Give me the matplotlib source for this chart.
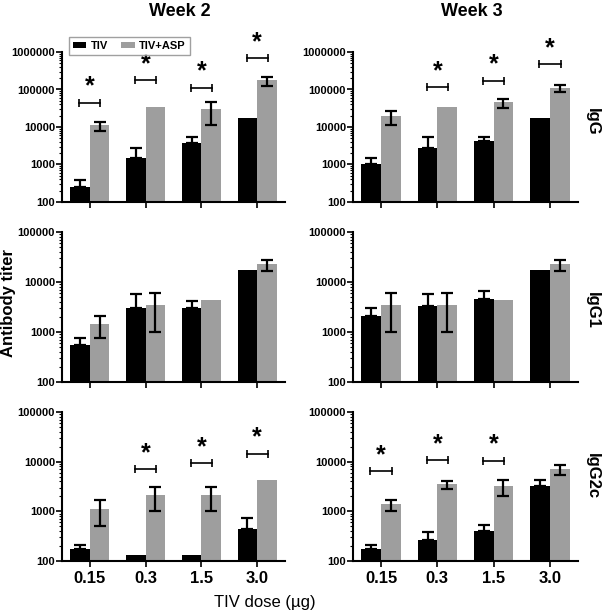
import matplotlib
matplotlib.use("Agg")
import matplotlib.pyplot as plt
from matplotlib.ticker import FixedLocator, FuncFormatter, LogLocator, NullFormatter
from matplotlib.patches import Patch
import numpy as np

plt.rcParams['font.family'] = ['Liberation Sans', 'DejaVu Sans']

doses = ["0.15", "0.3", "1.5", "3.0"]
weeks = ["Week 2", "Week 3"]
isotypes = ["IgG", "IgG1", "IgG2c"]

# ---- IgG, week 2 ----
igg_w2_tiv = [257, 1460, 3820, 17000]
igg_w2_tiv_hi = [386, 2760, 5400, None]
igg_w2_asp = [11000, 33400, 30200, 179000]
igg_w2_asp_lo = [7800, None, 11500, 126000]
igg_w2_asp_hi = [13500, None, 46400, 211000]
igg_w2_sig = [44600, 179000, 110000, 676000]

# ---- IgG, week 3 ----
igg_w3_tiv = [1040, 2830, 4360, 16900]
igg_w3_tiv_hi = [1500, 5460, 5570, None]
igg_w3_asp = [19100, 33900, 45200, 111000]
igg_w3_asp_lo = [11200, None, 31800, 85000]
igg_w3_asp_hi = [26500, None, 54300, 128000]
igg_w3_sig = [None, 116000, 171000, 479000]

# ---- IgG1, week 2 ----
igg1_w2_tiv = [541, 3020, 3020, 17400]
igg1_w2_tiv_hi = [770, 5660, 4230, None]
igg1_w2_asp = [1470, 3520, 4300, 23300]
igg1_w2_asp_lo = [747, 1010, None, 16300]
igg1_w2_asp_hi = [2060, 5930, None, 27500]
igg1_w2_sig = [None, None, None, None]

# ---- IgG1, week 3 ----
igg1_w3_tiv = [2120, 3260, 4570, 17400]
igg1_w3_tiv_hi = [3070, 5660, 6610, None]
igg1_w3_asp = [3520, 3520, 4300, 23300]
igg1_w3_asp_lo = [1010, 1010, None, 16300]
igg1_w3_asp_hi = [5930, 5930, None, 27500]
igg1_w3_sig = [None, None, None, None]

# ---- IgG2c, week 2 ----
igg2c_w2_tiv = [177, 132, 132, 445]
igg2c_w2_tiv_hi = [212, None, None, 738]
igg2c_w2_asp = [1120, 2130, 2130, 4270]
igg2c_w2_asp_lo = [503, 1020, 1020, None]
igg2c_w2_asp_hi = [1670, 3090, 3090, None]
igg2c_w2_sig = [None, 7100, 9340, 14600]

# ---- IgG2c, week 3 ----
igg2c_w3_tiv = [177, 268, 405, 3230]
igg2c_w3_tiv_hi = [212, 387, 527, 4200]
igg2c_w3_asp = [1410, 3490, 3230, 6980]
igg2c_w3_asp_lo = [1005, 2770, 2040, 5370]
igg2c_w3_asp_hi = [1720, 4140, 4200, 8520]
igg2c_w3_sig = [6370, 10700, 10500, None]

panels = [
    [(igg_w2_tiv, igg_w2_tiv_hi, igg_w2_asp, igg_w2_asp_lo, igg_w2_asp_hi, igg_w2_sig),
     (igg_w3_tiv, igg_w3_tiv_hi, igg_w3_asp, igg_w3_asp_lo, igg_w3_asp_hi, igg_w3_sig)],
    [(igg1_w2_tiv, igg1_w2_tiv_hi, igg1_w2_asp, igg1_w2_asp_lo, igg1_w2_asp_hi, igg1_w2_sig),
     (igg1_w3_tiv, igg1_w3_tiv_hi, igg1_w3_asp, igg1_w3_asp_lo, igg1_w3_asp_hi, igg1_w3_sig)],
    [(igg2c_w2_tiv, igg2c_w2_tiv_hi, igg2c_w2_asp, igg2c_w2_asp_lo, igg2c_w2_asp_hi, igg2c_w2_sig),
     (igg2c_w3_tiv, igg2c_w3_tiv_hi, igg2c_w3_asp, igg2c_w3_asp_lo, igg2c_w3_asp_hi, igg2c_w3_sig)],
]
row_ylims = [(100, 1e6), (100, 1e5), (100, 1e5)]

W, H = 604, 615
fig = plt.figure(figsize=(W / 100, H / 100), dpi=100)

col_x = [(62, 223), (353, 225)]
row_y = [(52, 202), (232, 382), (412, 561)]

black = "#000000"
gray = "#9e9e9e"
bw = 0.35

for r in range(3):
    for c in range(2):
        x0, w = col_x[c]
        yt, yb = row_y[r]
        ax = fig.add_axes([x0 / W, 1 - yb / H, w / W, (yb - yt) / H])
        tiv, tiv_hi, asp, asp_lo, asp_hi, sig = panels[r][c]
        x = np.arange(len(doses))
        ax.bar(x - bw / 2, tiv, width=bw, color=black, zorder=2)
        ax.bar(x + bw / 2, asp, width=bw, color=gray, zorder=2)
        for i in range(len(doses)):
            if tiv_hi[i] is not None:
                ax.errorbar(x[i] - bw / 2, tiv[i], yerr=[[0], [tiv_hi[i] - tiv[i]]],
                            fmt='none', ecolor=black, elinewidth=1.6, capsize=4, capthick=1.6, zorder=3)
            if asp_hi[i] is not None:
                ax.errorbar(x[i] + bw / 2, asp[i], yerr=[[asp[i] - asp_lo[i]], [asp_hi[i] - asp[i]]],
                            fmt='none', ecolor=black, elinewidth=1.6, capsize=4, capthick=1.6, zorder=3)
            if sig[i] is not None:
                ax.plot([x[i] - 0.19, x[i] + 0.19], [sig[i], sig[i]], color=black, lw=1.2,
                        marker='|', markersize=6, markeredgewidth=1.2, zorder=3, clip_on=False)
                ax.annotate('*', (x[i], sig[i]), xytext=(0, 3), textcoords='offset points',
                            ha='center', va='bottom', fontsize=18, fontweight='bold',
                            annotation_clip=False)
        ax.set_yscale('log')
        lo, hi = row_ylims[r]
        ax.set_ylim(lo, hi)
        ax.set_xlim(-0.5, 3.5)
        majors = [10 ** k for k in range(int(np.log10(lo)), int(np.log10(hi)) + 1)]
        ax.yaxis.set_major_locator(FixedLocator(majors))
        ax.yaxis.set_major_formatter(FuncFormatter(lambda v, p: f"{int(round(v))}"))
        ax.yaxis.set_minor_locator(LogLocator(base=10, subs=np.arange(2, 10)))
        ax.yaxis.set_minor_formatter(NullFormatter())
        ax.set_xticks(x)
        if r == 2:
            ax.set_xticklabels(doses, fontsize=12, fontweight='bold')
        else:
            ax.set_xticklabels([])
        for s in ['top', 'right']:
            ax.spines[s].set_visible(False)
        for s in ['left', 'bottom']:
            ax.spines[s].set_linewidth(1.5)
        ax.tick_params(axis='y', which='major', length=4, width=1.2, labelsize=8, pad=1)
        ax.tick_params(axis='y', which='minor', length=2, width=0.8)
        ax.tick_params(axis='x', which='major', length=4, width=1.2, pad=3)
        for lab in ax.get_yticklabels():
            lab.set_fontweight('bold')
        if r == 0 and c == 0:
            handles = [Patch(facecolor=black, label='TIV'), Patch(facecolor=gray, label='TIV+ASP')]
            fig.legend(handles=handles, loc='upper left', bbox_to_anchor=(69 / W, 1 - 37 / H),
                       ncol=2, frameon=True, fancybox=False, edgecolor='#888888',
                       prop={'weight': 'bold', 'size': 8}, handlelength=1.2, handleheight=0.45,
                       handletextpad=0.4, columnspacing=1.2, borderpad=0.35, borderaxespad=0)

fig.text(180 / W, 1 - 11 / H, weeks[0], ha='center', va='center', fontsize=13, fontweight='bold')
fig.text(472 / W, 1 - 12 / H, weeks[1], ha='center', va='center', fontsize=13, fontweight='bold')
for lab, yc in zip(isotypes, [122, 310, 476]):
    fig.text(592 / W, 1 - yc / H, lab, ha='center', va='center', rotation=-90,
             fontsize=12, fontweight='bold')
fig.text(9 / W, 1 - 303 / H, "Antibody titer", ha='center', va='center', rotation=90,
         fontsize=12, fontweight='bold')
fig.text(265 / W, 1 - 603 / H, "TIV dose (µg)", ha='center', va='center', fontsize=12)

fig.savefig("out.png", dpi=100)
